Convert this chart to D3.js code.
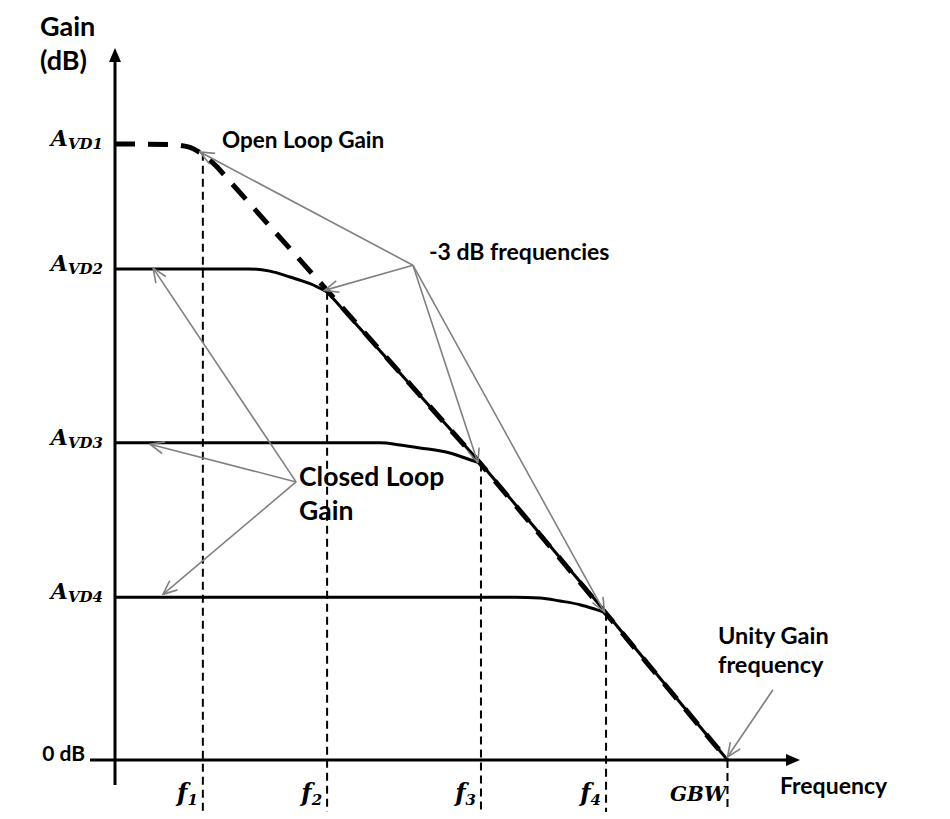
<!DOCTYPE html>
<html>
<head>
<meta charset="utf-8">
<script src="https://cdn.jsdelivr.net/npm/d3@7"></script>
<style>
  body { margin: 0; background: #fff; }
  svg { display: block; }
  .lbl { font-family: Lato, "Open Sans", sans-serif; font-weight: bold; fill: #000; }
  .math { font-family: "DejaVu Serif", serif; font-weight: bold; font-style: italic; fill: #000; }
</style>
</head>
<body>
<div id="chart"></div>
<script>
// curves: [frequency (Hz), gain (dB)]
// flat part + knee of each response (drawn smooth)
const openLoopKnee = [[12.7, 83.3], [35, 83.2], [49, 82.9], [61, 82.1], [83, 80.2]];
const closedLoop2 = [[12.7, 66.4], [150, 66.4], [220, 66.1], [318, 65.3], [460, 64.4], [630, 63.3]];
const closedLoop3 = [[12.7, 42.9], [1670, 42.9], [2410, 42.6], [3480, 42.2], [6050, 41.5], [8740, 40.6], [10700, 40.1]];
const closedLoop4 = [[12.7, 22.0], [20000, 22.0], [31700, 21.9], [45800, 21.5], [66200, 21.0], [87200, 20.4], [107000, 19.9]];
// -20 dB/decade roll-off (drawn straight)
const openLoopRolloff = [[83, 80.2], [630, 63.5], [10700, 40.0], [107000, 19.8], [1e6, 0]];
const closedRolloff = [[630, 63.3], [10700, 40.1], [107000, 19.9], [1e6, 0]];

// y tick labels
const gainLevels = [83.3, 66.4, 42.9, 22.0];
const gainSubs = ["VD1", "VD2", "VD3", "VD4"];

// x tick labels / corner (-3 dB) points
const cornerFreqs = [64, 630, 10700, 107000, 1e6];
const cornerGains = [82.1, 63.3, 40.1, 19.9, 0];
const freqNames = ["f", "f", "f", "f", "GBW"];
const freqSubs = ["1", "2", "3", "4", ""];

// annotations
const minus3Hub = [3060, 66.9];
const minus3Targets = [[60.7, 82.2], [600, 63.5], [10100, 40.2], [104000, 20.0]];
const closedHub = [356, 37.6];
const closedTargets = [[25.6, 66.5], [24.2, 42.7], [30.7, 22.4]];
const unityFrom = [2.31e6, 9.5];
const unityTo = [1e6, 0.4];

const width = 950, height = 819;

const svg = d3.select("#chart").append("svg")
    .attr("width", width)
    .attr("height", height);

svg.append("rect").attr("width", width).attr("height", height).attr("fill", "#fff");

const x = d3.scaleLog().domain([12.7, 3.8e6]).range([115, 800]);
const y = d3.scaleLinear().domain([0, 96]).range([760, 50]);

const gray = "#808080";

// arrow heads
const defs = svg.append("defs");
defs.append("marker")
    .attr("id", "grayHead")
    .attr("markerUnits", "userSpaceOnUse")
    .attr("viewBox", "0 0 16 14")
    .attr("refX", 15).attr("refY", 7)
    .attr("markerWidth", 16).attr("markerHeight", 14)
    .attr("orient", "auto")
    .append("path")
    .attr("d", "M1,1 L15,7 L1,13")
    .attr("fill", "none")
    .attr("stroke", gray)
    .attr("stroke-width", 1.6);

// vertical dashed lines at the corner frequencies
svg.selectAll(".fline")
    .data(cornerFreqs)
    .enter().append("line")
    .attr("class", "fline")
    .attr("x1", d => x(d)).attr("x2", d => x(d))
    .attr("y1", (d, i) => y(cornerGains[i]))
    .attr("y2", 812)
    .attr("stroke", "#000")
    .attr("stroke-width", 2)
    .attr("stroke-dasharray", "8,5");

// axes
svg.append("line")
    .attr("x1", x(12.7)).attr("x2", x(12.7))
    .attr("y1", 785).attr("y2", 58)
    .attr("stroke", "#000").attr("stroke-width", 3);
svg.append("path")
    .attr("d", `M${x(12.7)},48 L${x(12.7) - 6},62 L${x(12.7) + 6},62 Z`)
    .attr("fill", "#000");

svg.append("line")
    .attr("x1", 90).attr("x2", 790)
    .attr("y1", y(0)).attr("y2", y(0))
    .attr("stroke", "#000").attr("stroke-width", 3);
svg.append("path")
    .attr("d", `M800,${y(0)} L786,${y(0) - 6} L786,${y(0) + 6} Z`)
    .attr("fill", "#000");

// curves: smooth knee followed by a straight roll-off
const smooth = d3.line()
    .x(d => x(d[0]))
    .y(d => y(d[1]))
    .curve(d3.curveMonotoneX);
const straight = d3.line()
    .x(d => x(d[0]))
    .y(d => y(d[1]));

[closedLoop2, closedLoop3, closedLoop4].forEach(c => {
    svg.append("path")
        .attr("d", smooth(c))
        .attr("fill", "none")
        .attr("stroke", "#000")
        .attr("stroke-width", 3);
});
svg.append("path")
    .attr("d", straight(closedRolloff))
    .attr("fill", "none")
    .attr("stroke", "#000")
    .attr("stroke-width", 3);

svg.append("path")
    .attr("d", smooth(openLoopKnee) + straight(openLoopRolloff).replace(/^M/, "L"))
    .attr("fill", "none")
    .attr("stroke", "#000")
    .attr("stroke-width", 5)
    .attr("stroke-dasharray", "20,13");

// annotation arrows
function arrow(from, to) {
    svg.append("line")
        .attr("x1", x(from[0])).attr("y1", y(from[1]))
        .attr("x2", x(to[0])).attr("y2", y(to[1]))
        .attr("stroke", gray)
        .attr("stroke-width", 1.6)
        .attr("marker-end", "url(#grayHead)");
}
minus3Targets.forEach(t => arrow(minus3Hub, t));
closedTargets.forEach(t => arrow(closedHub, t));
arrow(unityFrom, unityTo);

// y tick labels
gainLevels.forEach((g, i) => {
    const t = svg.append("text")
        .attr("class", "math")
        .attr("x", 103)
        .attr("y", y(g) + 2)
        .attr("text-anchor", "end");
    t.append("tspan").attr("font-size", 22).text("A");
    t.append("tspan").attr("font-size", 15).attr("dy", 3).text(gainSubs[i]);
});

svg.append("text")
    .attr("class", "lbl")
    .attr("x", 85).attr("y", y(0) + 1)
    .attr("text-anchor", "end")
    .attr("font-size", 21)
    .text("0 dB");

// x tick labels
cornerFreqs.forEach((f, i) => {
    const t = svg.append("text")
        .attr("class", "math")
        .attr("x", x(f) - (freqSubs[i] ? 5 : 1))
        .attr("y", 801)
        .attr("text-anchor", "end");
    t.append("tspan").attr("font-size", freqSubs[i] ? 24 : 20).text(freqNames[i]);
    if (freqSubs[i]) {
        t.append("tspan").attr("font-size", 15).attr("dy", 4).text(freqSubs[i]);
    }
});

// axis titles
svg.append("text").attr("class", "lbl")
    .attr("x", 40).attr("y", 36).attr("font-size", 27).text("Gain");
svg.append("text").attr("class", "lbl")
    .attr("x", 40).attr("y", 70).attr("font-size", 27).text("(dB)");
svg.append("text").attr("class", "lbl")
    .attr("x", 780).attr("y", 794).attr("font-size", 23).text("Frequency");

// annotation texts
svg.append("text").attr("class", "lbl")
    .attr("x", 222).attr("y", 148).attr("font-size", 22.5).text("Open Loop Gain");
svg.append("text").attr("class", "lbl")
    .attr("x", x(minus3Hub[0]) + 16).attr("y", y(minus3Hub[1]) - 5)
    .attr("font-size", 23).text("-3 dB frequencies");
svg.append("text").attr("class", "lbl")
    .attr("x", x(closedHub[0]) + 3).attr("y", y(closedHub[1]) + 4)
    .attr("font-size", 26.5).text("Closed Loop");
svg.append("text").attr("class", "lbl")
    .attr("x", x(closedHub[0]) + 3).attr("y", y(closedHub[1]) + 38)
    .attr("font-size", 26.5).text("Gain");
svg.append("text").attr("class", "lbl")
    .attr("x", 718).attr("y", 644).attr("font-size", 23.5).text("Unity Gain");
svg.append("text").attr("class", "lbl")
    .attr("x", 718).attr("y", 673).attr("font-size", 23.5).text("frequency");
</script>
</body>
</html>
